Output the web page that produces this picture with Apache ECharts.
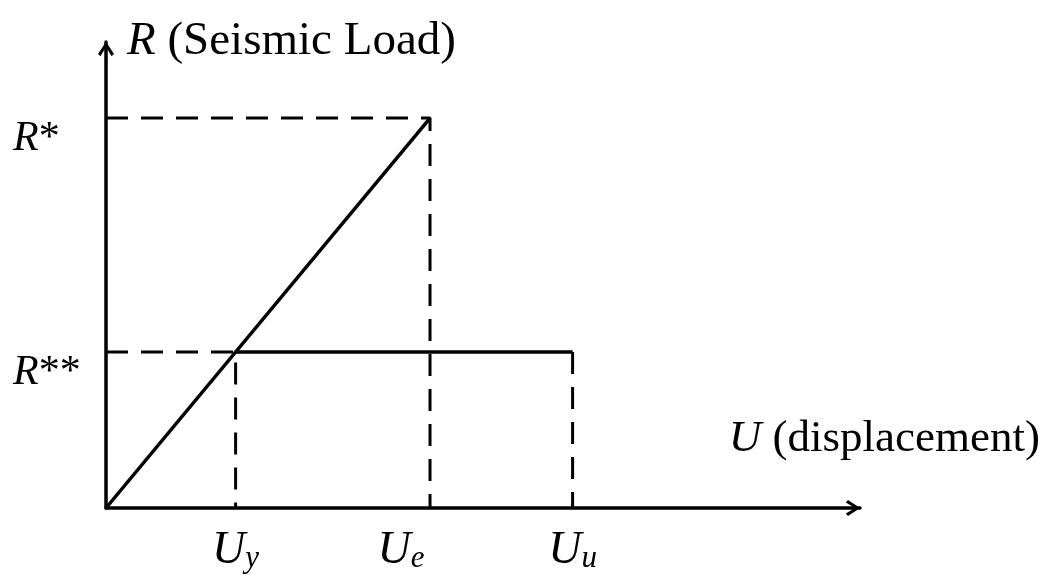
<!DOCTYPE html>
<html>
<head>
<meta charset="utf-8">
<script src="https://cdn.jsdelivr.net/npm/echarts@6/dist/echarts.min.js"></script>
<style>
  html, body { margin: 0; padding: 0; background: #fff; }
  #chart { width: 1059px; height: 580px; }
</style>
</head>
<body>
<div id="chart"></div>
<script>
// Idealised elastic / elastic-perfectly-plastic response, normalised so Ue = 1 and R* = 1
const dispKeys = ['y', 'e', 'u'];           // subscripts of U_y, U_e, U_u
const dispValues = [0.40, 1.00, 1.44];      // U_y, U_e, U_u
const loadKeys = ['*', '**'];               // R*, R**
const loadValues = [1.00, 0.40];            // R*, R**

const Uy = dispValues[0], Ue = dispValues[1], Uu = dispValues[2];
const Rs = loadValues[0], Rss = loadValues[1];

const FONT = '"Liberation Serif", "DejaVu Serif", serif';
const INK = '#000';

// open chevron arrow head used at the end of both axes (drawn pointing up)
const chevron = 'path://M8,0 L16,12.2 L13.6,14.4 L8,5.2 L2.4,14.4 L0,12.2 Z';

const chart = echarts.init(document.getElementById('chart'), null, { renderer: 'canvas' });

const axisLineStyle = {
  show: true,
  onZero: false,
  symbol: ['none', chevron],
  symbolSize: [16, 15],
  symbolOffset: [0, -7],
  lineStyle: { color: INK, width: 3.5 }
};

// subscript: a taller bottom-aligned line box pushes the glyphs below the main baseline
const subStyle = { fontFamily: FONT, fontStyle: 'italic', fontSize: 31, lineHeight: 40, color: INK, verticalAlign: 'bottom' };

const option = {
  animation: false,
  backgroundColor: '#fff',
  grid: { left: 106, top: 42, right: 199, bottom: 72, containLabel: false, outerBoundsMode: 'none' },
  xAxis: {
    type: 'value',
    min: 0,
    max: 2.327,
    name: '{u|U}{n| (displacement)}',
    nameLocation: 'end',
    nameGap: 180,
    nameTextStyle: {
      align: 'right',
      verticalAlign: 'middle',
      padding: [0, 0, 138, 0],
      rich: {
        u: { fontFamily: FONT, fontStyle: 'italic', fontSize: 45, color: INK },
        n: { fontFamily: FONT, fontSize: 45, color: INK }
      }
    },
    axisLine: axisLineStyle,
    axisTick: { show: false },
    splitLine: { show: false },
    axisLabel: {
      customValues: dispValues,
      margin: 20,
      formatter: function (v) {
        const i = dispValues.indexOf(v);
        const key = dispKeys[i];
        return '{u|U}{' + (key === 'e' ? 'se' : 's') + '|' + key + '}';
      },
      rich: {
        u: { fontFamily: FONT, fontStyle: 'italic', fontSize: 46, lineHeight: 46, color: INK, verticalAlign: 'top' },
        s: Object.assign({}, subStyle),
        se: Object.assign({}, subStyle, { padding: [0, 58, 0, 0] })
      }
    }
  },
  yAxis: {
    type: 'value',
    min: 0,
    max: 1.195,
    name: '{r|R}{n| (Seismic Load)}',
    nameLocation: 'end',
    nameGap: 0,
    nameTextStyle: {
      align: 'left',
      verticalAlign: 'middle',
      padding: [0, 0, 0, 21],
      rich: {
        r: { fontFamily: FONT, fontStyle: 'italic', fontSize: 47, color: INK },
        n: { fontFamily: FONT, fontSize: 47, color: INK }
      }
    },
    axisLine: axisLineStyle,
    axisTick: { show: false },
    splitLine: { show: false },
    axisLabel: {
      customValues: loadValues,
      margin: 93,
      align: 'left',
      verticalAlign: 'top',
      formatter: function (v) {
        const i = loadValues.indexOf(v);
        return '{r|R}{a|' + loadKeys[i] + '}';
      },
      rich: {
        r: { fontFamily: FONT, fontStyle: 'italic', fontSize: 42, color: INK },
        a: { fontFamily: FONT, fontSize: 42, color: INK }
      }
    }
  },
  series: [
    {
      name: 'elastic',
      type: 'line',
      showSymbol: false,
      silent: true,
      lineStyle: { color: INK, width: 3.5 },
      data: [[0, 0], [Ue, Rs]]
    },
    {
      name: 'plastic plateau',
      type: 'line',
      showSymbol: false,
      silent: true,
      lineStyle: { color: INK, width: 3.5 },
      data: [[Uy, Rss], [Uu, Rss]]
    },
    {
      name: 'guide R*',
      type: 'line',
      showSymbol: false,
      silent: true,
      lineStyle: { color: INK, width: 3, type: [22, 13] },
      data: [[0, Rs], [Ue, Rs], [Ue, 0]]
    },
    {
      name: 'guide R**',
      type: 'line',
      showSymbol: false,
      silent: true,
      lineStyle: { color: INK, width: 3, type: [22, 13] },
      data: [[0, Rss], [Uy, Rss], [Uy, 0]]
    },
    {
      name: 'guide Uu',
      type: 'line',
      showSymbol: false,
      silent: true,
      lineStyle: { color: INK, width: 3, type: [22, 13] },
      data: [[Uu, Rss], [Uu, 0]]
    }
  ]
};

chart.setOption(option);
</script>
</body>
</html>
